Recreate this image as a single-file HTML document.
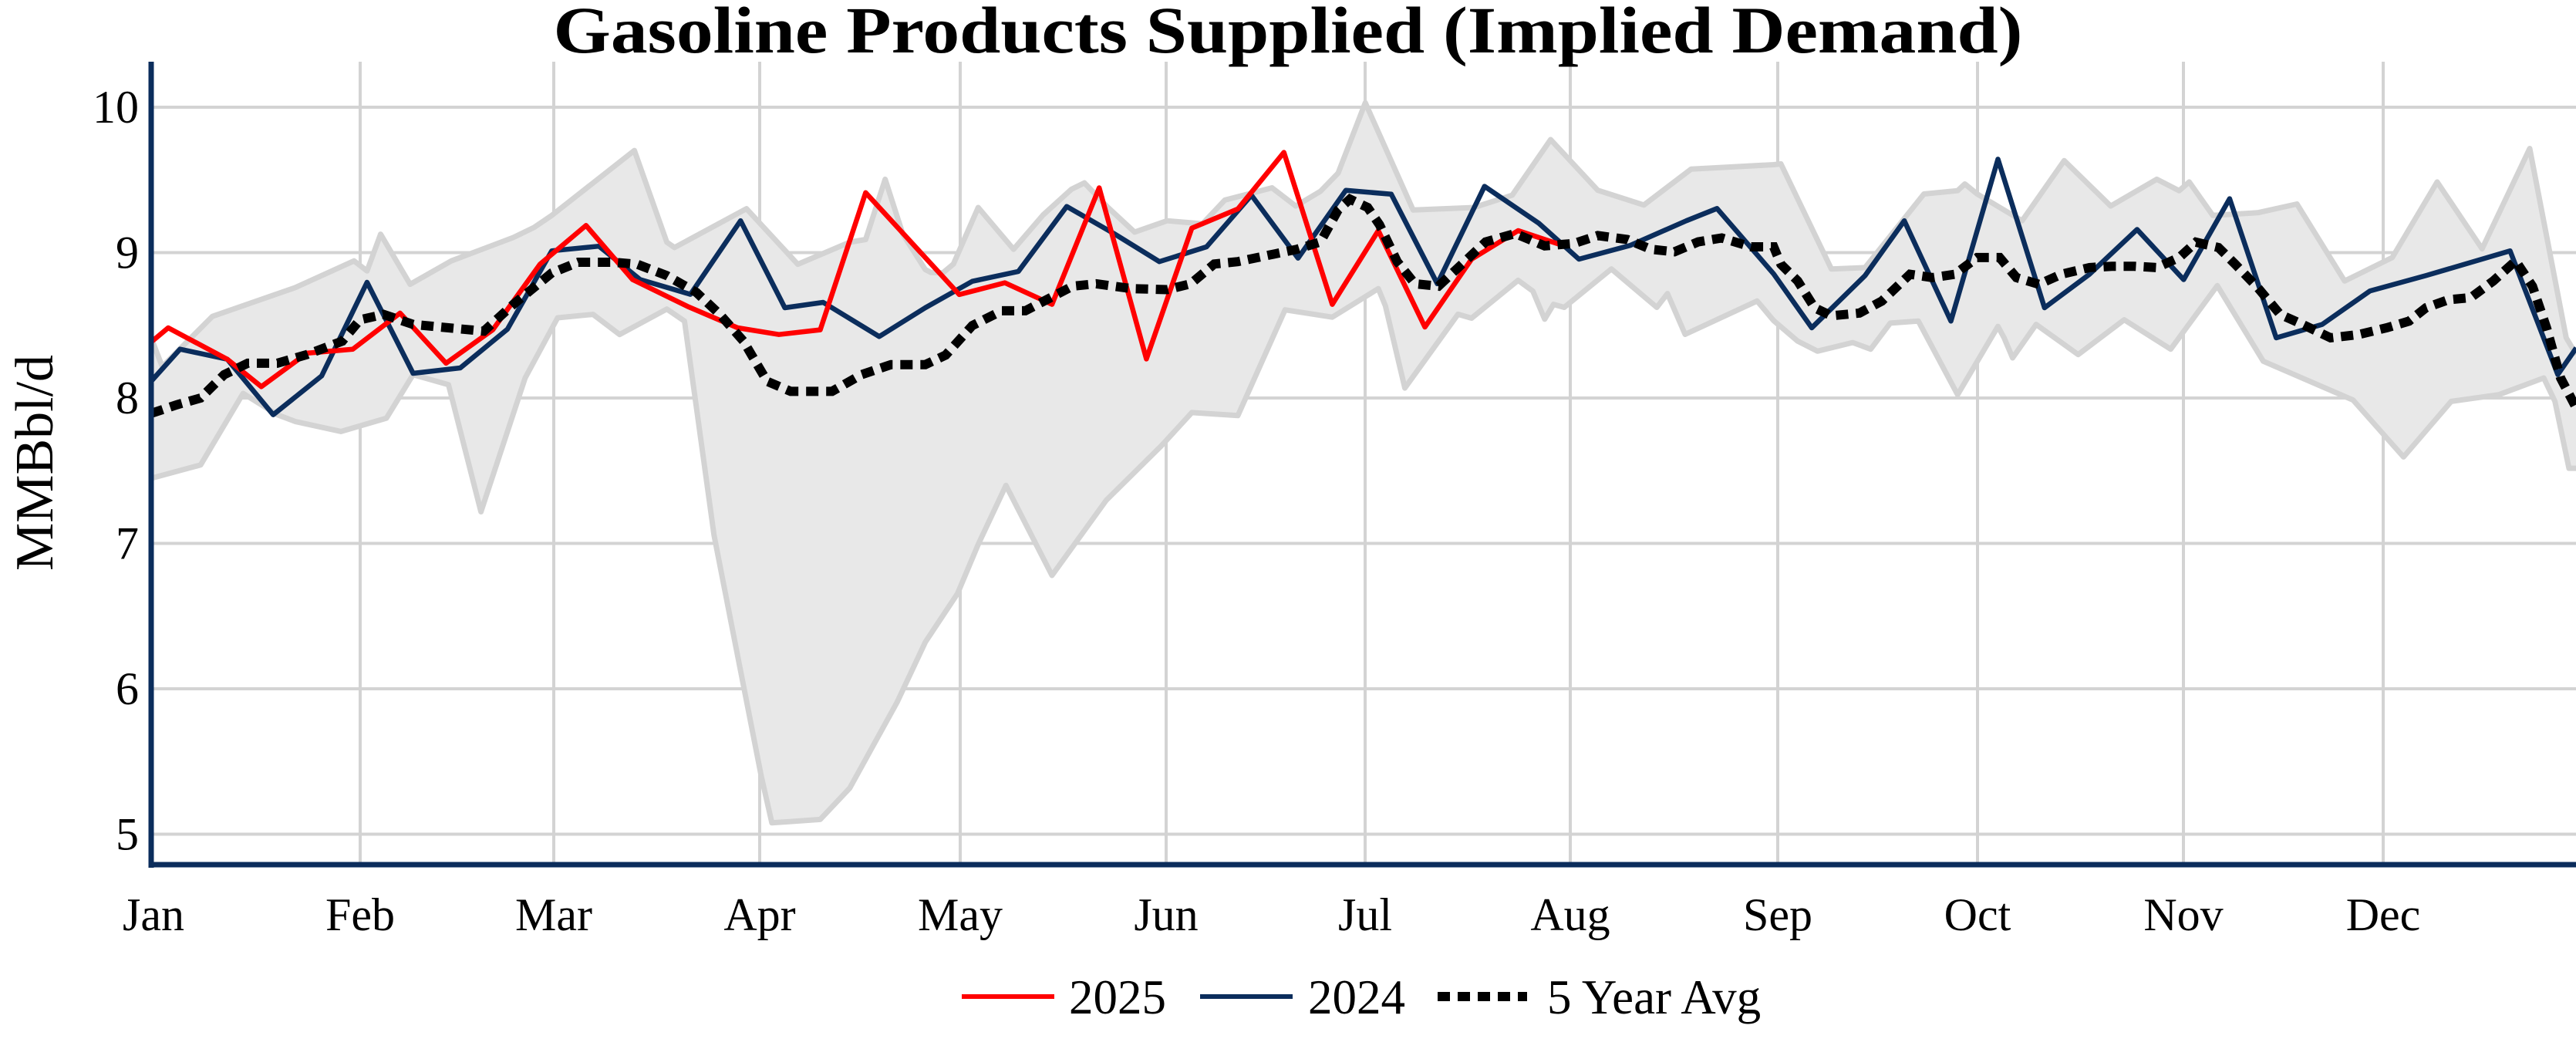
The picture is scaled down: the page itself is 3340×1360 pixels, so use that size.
<!DOCTYPE html>
<html><head><meta charset="utf-8"><style>
html,body{margin:0;padding:0;background:#fff}
svg{display:block}
text{font-family:"Liberation Serif",serif;fill:#000}
</style></head><body>
<svg id="s" width="3340" height="1360" viewBox="0 0 3340 1360" xmlns="http://www.w3.org/2000/svg">
<defs><clipPath id="c"><rect x="196" y="60" width="3144" height="1062"/></clipPath></defs>
<g id="grid" stroke="#d3d3d3" stroke-width="4"></g>
<g id="data" clip-path="url(#c)"></g>
<line x1="196" y1="80" x2="196" y2="1125" stroke="#0b2d5c" stroke-width="7"/>
<line x1="193" y1="1121" x2="3340" y2="1121" stroke="#0b2d5c" stroke-width="7"/>
<g id="labels"></g>
<text x="1670" y="68" text-anchor="middle" font-weight="bold" font-size="86" textLength="1905" lengthAdjust="spacingAndGlyphs">Gasoline Products Supplied (Implied Demand)</text>
<text transform="translate(68,600) rotate(-90)" text-anchor="middle" font-size="70">MMBbl/d</text>
<line x1="1247" y1="1292" x2="1367" y2="1292" stroke="#ff0000" stroke-width="6"/>
<text x="1386" y="1314" font-size="63">2025</text>
<line x1="1556" y1="1292" x2="1676" y2="1292" stroke="#0b2d5c" stroke-width="6"/>
<text x="1696" y="1314" font-size="63">2024</text>
<line x1="1864" y1="1292" x2="1980" y2="1292" stroke="#000" stroke-width="12" stroke-dasharray="16,10"/>
<text x="2006" y="1314" font-size="63">5 Year Avg</text>
</svg>
<script>
var NS="http://www.w3.org/2000/svg";
function el(p,t,a){var e=document.createElementNS(NS,t);for(var k in a)e.setAttribute(k,a[k]);p.appendChild(e);return e;}
var grid=document.getElementById('grid'),lab=document.getElementById('labels'),data=document.getElementById('data');
function yv(v){return 139+(10-v)*188.5;}
for(var v=5;v<=10;v++){el(grid,'line',{x1:196,x2:3340,y1:yv(v),y2:yv(v)});
 var t=el(lab,'text',{x:180,y:yv(v)+20,'text-anchor':'end','font-size':60});t.textContent=v;}
var months=[["Jan",199],["Feb",467],["Mar",718],["Apr",985],["May",1245],["Jun",1512],["Jul",1770],["Aug",2036],["Sep",2305],["Oct",2564],["Nov",2831],["Dec",3090]];
months.forEach(function(m,i){if(i>0)el(grid,'line',{x1:m[1],x2:m[1],y1:80,y2:1121});
 var t=el(lab,'text',{x:m[1],y:1206,'text-anchor':'middle','font-size':60});t.textContent=m[0];});
function R1(p){return p.map(function(q){return [q[0]/1.307,q[1]/1.153];});}
function R3(p){return p.map(function(q){return [1100+q[0]/1.307,100+q[1]/1.568];});}
function R2(p){return p.map(function(q){return [2200+q[0]/1.375,q[1]/1.153];});}
function join(){var out=[];for(var i=0;i<arguments.length;i++){arguments[i].forEach(function(p){if(!out.length||p[0]>out[out.length-1][0]+1)out.push(p);});}return out;}
function pts(a){return a.map(function(p){return p[0].toFixed(1)+","+p[1].toFixed(1);}).join(" ");}
var up=join(R1([[256,505],[275,548],[360,473],[500,430],[600,390],[622,405],[645,350],[695,425],[765,390],[870,355],[905,340],[935,322],[1075,225],[1130,362],[1143,370],[1265,312],[1352,395],[1440,362],[1467,358],[1500,268],[1530,350],[1568,403]]),
R3([[140,397],[160,398],[178,380],[220,265],[280,350],[330,280],[378,228],[400,215],[440,265],[485,315],[540,292],[600,298],[638,250],[718,225],[758,262],[800,232],[830,195],[876,52],[957,270],[1060,265],[1125,240],[1190,127],[1270,230],[1348,260],[1428,187],[1568,178]]),
R2([[150,245],[240,402],[300,400],[405,290],[465,285],[478,275],[500,290],[580,330],[655,240],[738,308],[820,268],[860,285],[878,272],[920,322],[1000,318],[1070,305],[1155,420],[1240,385],[1320,272],[1400,372],[1485,222],[1550,505],[1568,530]]));
var lo=join(R1([[256,715],[340,695],[412,588],[470,620],[500,630],[578,645],[655,625],[700,560],[760,575],[815,765],[890,565],[945,475],[1005,470],[1050,500],[1130,462],[1160,480],[1210,800],[1240,935],[1290,1160],[1308,1230],[1390,1225],[1440,1178],[1520,1050],[1568,960]]),
R3([[185,1050],[220,950],[267,830],[345,1013],[437,860],[530,750],[582,682],[660,688],[740,473],[820,488],[898,430],[910,465],[943,632],[1033,482],[1056,490],[1135,413],[1160,435],[1180,492],[1195,462],[1213,468],[1293,390],[1370,468],[1388,440],[1418,523],[1540,455],[1568,495]]),
R2([[180,510],[215,525],[278,512],[310,522],[345,483],[395,480],[465,590],[537,488],[548,505],[563,535],[605,485],[680,530],[762,478],[845,522],[928,427],[1010,540],[1170,598],[1260,683],[1345,600],[1430,590],[1510,565],[1530,600],[1555,700],[1568,700]]));
var poly=up.concat([[3345,up[up.length-1][1]],[3345,lo[lo.length-1][1]]]).concat(lo.slice().reverse());
el(data,'polygon',{points:pts(poly),fill:'#e8e8e8',stroke:'none'});
el(data,'polyline',{points:pts(up),fill:'none',stroke:'#d3d3d3','stroke-width':7,'stroke-linejoin':'round'});
el(data,'polyline',{points:pts(lo),fill:'none',stroke:'#d3d3d3','stroke-width':7,'stroke-linejoin':'round'});
var avg=join(R1([[256,618],[300,605],[340,595],[380,560],[420,543],[470,543],[520,530],[580,510],[610,478],[650,470],[700,485],[760,490],[820,495],[870,455],[935,408],[980,392],[1040,392],[1080,395],[1130,412],[1180,437],[1220,470],[1260,510],[1300,570],[1340,585],[1410,585],[1460,560],[1510,545],[1568,545]]),
R3([[165,565],[210,505],[260,475],[300,475],[340,450],[380,425],[420,420],[480,430],[540,432],[580,420],[620,380],[660,375],[720,360],[760,350],[800,335],[830,270],[850,248],[880,265],[900,300],[930,375],[960,420],[1000,425],[1040,380],[1080,335],[1130,318],[1180,343],[1230,338],[1270,322],[1320,330],[1360,350],[1400,355],[1440,335],[1480,327],[1530,345],[1568,345]]),
R2([[150,395],[180,420],[210,460],[240,472],[290,468],[330,450],[380,410],[420,415],[460,410],[500,385],[540,385],[570,415],[610,425],[650,410],[700,400],[740,398],[780,398],[820,400],[860,385],[890,362],[930,370],[960,395],[1000,430],[1040,470],[1080,485],[1130,505],[1180,500],[1230,490],[1270,480],[1300,460],[1340,448],[1380,445],[1420,420],[1460,390],[1490,428],[1515,490],[1540,565],[1568,610]]));
var blue=join(R1([[256,570],[305,522],[385,537],[463,620],[545,562],[622,422],[700,558],[780,550],[860,492],[935,375],[1015,368],[1085,418],[1170,440],[1255,330],[1330,460],[1395,452],[1490,503],[1568,460]]),
R3([[210,415],[288,395],[370,263],[450,318],[527,375],[607,345],[683,240],[762,368],[843,230],[920,238],[998,420],[1078,222],[1170,297],[1238,370],[1325,342],[1420,292],[1472,267],[1568,400]]),
R2([[205,490],[300,412],[370,330],[453,480],[537,238],[620,460],[700,410],[785,343],[868,418],[950,297],[1033,505],[1115,485],[1200,435],[1300,412],[1450,375],[1535,560],[1568,520]]));
var red=join(R1([[258,510],[285,490],[385,537],[443,578],[520,528],[598,522],[678,468],[756,543],[835,493],[915,395],[993,337],[1072,418],[1165,458],[1250,490],[1320,500],[1390,493],[1467,288],[1568,385]]),
R3([[188,442],[265,418],[345,462],[425,225],[505,573],[582,307],[660,268],[738,153],[820,462],[898,312],[977,508],[1056,370],[1135,312],[1213,343]]));
el(data,'polyline',{points:pts(blue),fill:'none',stroke:'#0b2d5c','stroke-width':6.5,'stroke-linejoin':'round'});
el(data,'polyline',{points:pts(red),fill:'none',stroke:'#ff0000','stroke-width':6.5,'stroke-linejoin':'round'});
el(data,'polyline',{points:pts(avg),fill:'none',stroke:'#000','stroke-width':12,'stroke-dasharray':'16,10'});
</script>
</body></html>
